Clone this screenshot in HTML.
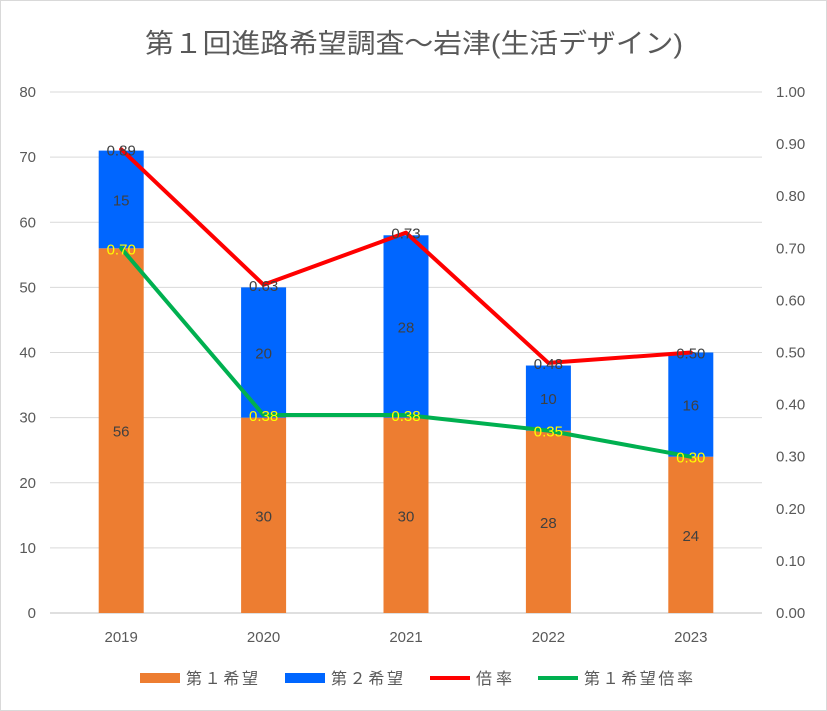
<!DOCTYPE html>
<html><head><meta charset="utf-8"><style>
body{margin:0;background:#fff;}
svg{display:block;font-family:"Liberation Sans","Noto Sans CJK JP",sans-serif;}
</style></head><body>
<svg id="c" width="827" height="711">
<rect x="0.5" y="0.5" width="826" height="710" fill="#fff" stroke="#d9d9d9"/>
<text x="145" y="53" font-size="27" textLength="538" lengthAdjust="spacingAndGlyphs" fill="#595959">第１回進路希望調査～岩津(生活デザイン)</text>
<g id="grid"></g><g id="bars"></g><g id="lines"></g><g id="labels"></g><g id="axes"></g>
<g>
<rect x="140" y="673" width="40" height="10" fill="#ed7d31"/>
<text x="186" y="684" font-size="16" textLength="72" fill="#595959">第１希望</text>
<rect x="285" y="673" width="40" height="10" fill="#0066ff"/>
<text x="331" y="684" font-size="16" textLength="72" fill="#595959">第２希望</text>
<line x1="430" y1="678" x2="470" y2="678" stroke="#ff0000" stroke-width="4"/>
<text x="476" y="684" font-size="16" textLength="36" fill="#595959">倍率</text>
<line x1="538" y1="678" x2="578" y2="678" stroke="#00b050" stroke-width="4"/>
<text x="584" y="684" font-size="16" textLength="109" fill="#595959">第１希望倍率</text>
</g>
</svg>
<script>
const categories=["2019","2020","2021","2022","2023"];
const first=[56,30,30,28,24];
const second=[15,20,28,10,16];
const ratio=[0.89,0.63,0.73,0.48,0.50];
const firstRatio=[0.70,0.38,0.38,0.35,0.30];
const leftTicks=[0,10,20,30,40,50,60,70,80];
const rightTicks=["0.00","0.10","0.20","0.30","0.40","0.50","0.60","0.70","0.80","0.90","1.00"];
const NS="http://www.w3.org/2000/svg";
const X0=50,X1=762,Y0=613,Y1=92;
const band=(X1-X0)/categories.length;
const xc=i=>X0+band*(i+0.5);
const yl=v=>Y0-(v/80)*(Y0-Y1);
const yr=v=>Y0-(v/1)*(Y0-Y1);
function mk(tag,attrs,parent,text){const e=document.createElementNS(NS,tag);for(const k in attrs)e.setAttribute(k,attrs[k]);if(text!==undefined)e.textContent=text;document.getElementById(parent).appendChild(e);return e;}
leftTicks.forEach(t=>{
 const g=mk("line",{x1:X0,x2:X1,y1:yl(t),y2:yl(t),stroke:t===0?"#bfbfbf":"#d9d9d9"},"grid");
 
 
 const l=mk("text",{x:36,y:yl(t)+5,"text-anchor":"end","font-size":15,fill:"#595959"},"axes",t);
 
 
});
rightTicks.forEach(t=>{
 const l=mk("text",{x:776,y:yr(parseFloat(t))+5,"font-size":15,fill:"#595959"},"axes",t);
 
 
});
const bw=45;
categories.forEach((c,i)=>{
 const x=xc(i);
 const b1=mk("rect",{x:x-bw/2,y:yl(first[i]),width:bw,height:Y0-yl(first[i]),fill:"#ed7d31"},"bars");
 
 
 const b2=mk("rect",{x:x-bw/2,y:yl(first[i]+second[i]),width:bw,height:yl(first[i])-yl(first[i]+second[i]),fill:"#0066ff"},"bars");
 
 
 const t1=mk("text",{x:x,y:yl(first[i]/2)+6,"text-anchor":"middle","font-size":15,fill:"#404040"},"labels",first[i]);
 
 
 const t2=mk("text",{x:x,y:yl(first[i]+second[i]/2)+6,"text-anchor":"middle","font-size":15,fill:"#404040"},"labels",second[i]);
 
 
 const xl=mk("text",{x:x,y:642,"text-anchor":"middle","font-size":15,fill:"#595959"},"axes",c);
 
 
});
function line(arr,color,name){
 const p=mk("polyline",{points:arr.map((v,i)=>xc(i)+","+yr(v)).join(" "),fill:"none",stroke:color,"stroke-width":4,"stroke-linejoin":"round","stroke-linecap":"round"},"lines");
 
 
}
line(ratio,"#ff0000","ratio-line");
line(firstRatio,"#00b050","first-ratio-line");
categories.forEach((c,i)=>{
 const a=mk("text",{x:xc(i),y:yr(ratio[i])+6,"text-anchor":"middle","font-size":15,fill:"#404040"},"labels",ratio[i].toFixed(2));
 
 
 const b=mk("text",{x:xc(i),y:yr(firstRatio[i])+6,"text-anchor":"middle","font-size":15,fill:"#ffff00"},"labels",firstRatio[i].toFixed(2));
 
 
});
</script>
</body></html>
